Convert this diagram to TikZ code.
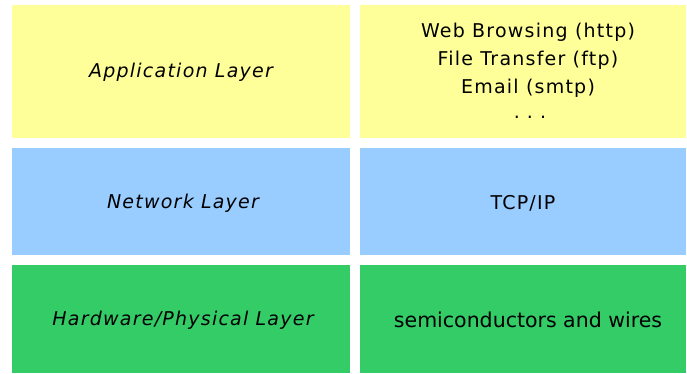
\documentclass[tikz,border=0pt]{standalone}
\usepackage{fontspec}
\setmainfont{DejaVu Sans}
\newfontfamily\spaced[LetterSpace=6.5]{DejaVu Sans}
\definecolor{ylw}{HTML}{FFFF99}
\definecolor{blu}{HTML}{99CCFF}
\definecolor{grn}{HTML}{33CC66}
\begin{document}
\begin{tikzpicture}[x=1pt,y=-1pt,
  lbl/.style={font=\spaced\fontsize{19}{28}\selectfont, align=center, text=black, inner sep=0pt},
  ilbl/.style={lbl, font=\spaced\fontsize{19}{28}\selectfont\itshape}]
\useasboundingbox (0,0) rectangle (687,373);
\fill[ylw] (12,5) rectangle (350,138);
\fill[ylw] (360,5) rectangle (686,138);
\fill[blu] (12,148) rectangle (350,255);
\fill[blu] (360,148) rectangle (686,255);
\fill[grn] (12,265) rectangle (350,373);
\fill[grn] (360,265) rectangle (686,373);
\node[ilbl] (app) at (181,72) {Application Layer};
\node[ilbl] (net) at (183,203) {Network Layer};
\node[ilbl] (hw) at (183,320) {Hardware/Physical Layer};
\node[lbl] (w) at (528,32) {Web Browsing (http)};
\node[lbl] (f) at (528,60) {File Transfer (ftp)};
\node[lbl] (e) at (528,88) {Email (smtp)};
\node[lbl, font=\fontsize{19}{28}\selectfont] (d) at (530,117) {.\hspace{7pt}.\hspace{7pt}.};
\node[lbl] (tcp) at (523,203) {TCP/IP};
\node[lbl, font=\fontsize{20.5}{28}\selectfont] (semi) at (528,320) {semiconductors and wires};
\end{tikzpicture}
\end{document}
